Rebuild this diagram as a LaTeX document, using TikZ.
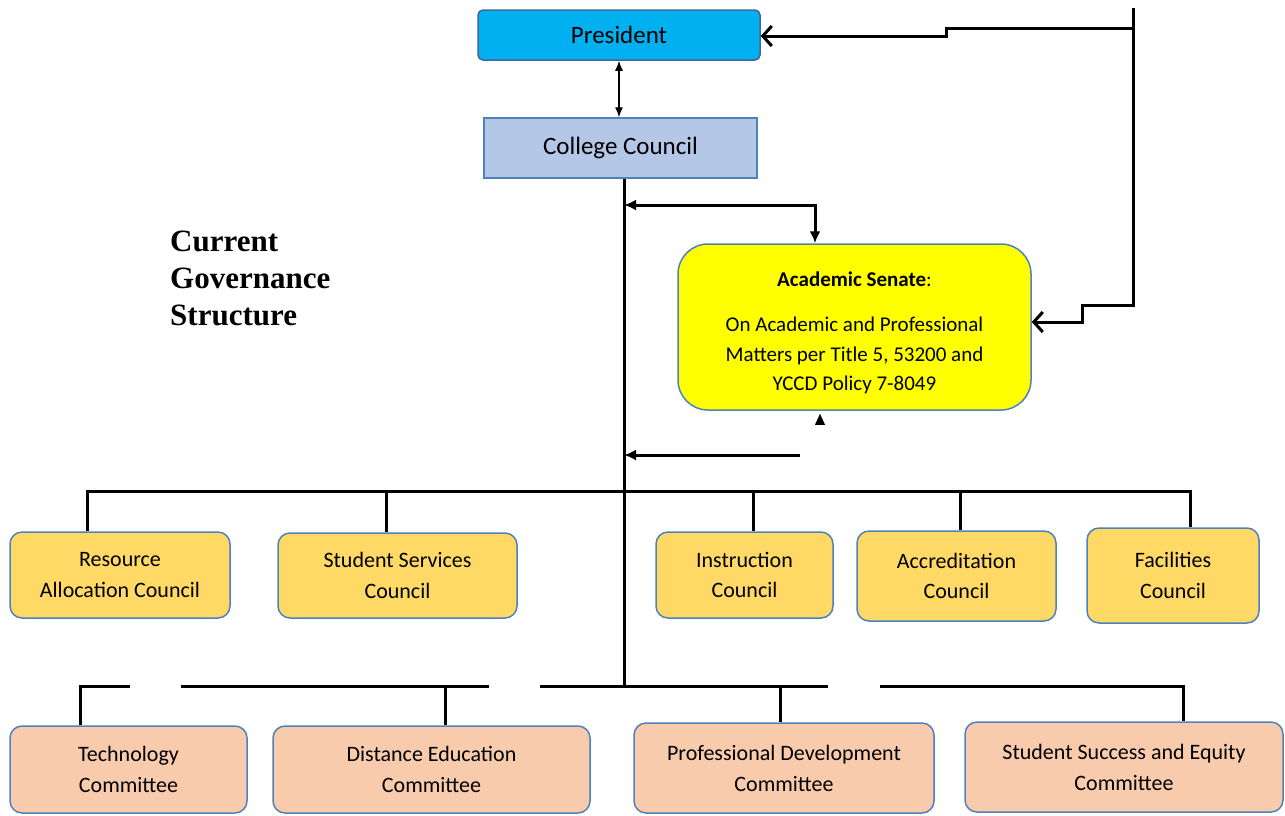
\documentclass[tikz,border=0pt]{standalone}
\usepackage{fontspec}
\setmainfont{Carlito}
\newfontfamily\titlefont{Liberation Serif}
\usetikzlibrary{arrows.meta}
\definecolor{presblue}{HTML}{00B0F0}
\definecolor{councilblue}{HTML}{B4C7E7}
\definecolor{senateyellow}{HTML}{FFFF00}
\definecolor{councilgold}{HTML}{FFD966}
\definecolor{committeepeach}{HTML}{F8CBAD}
\definecolor{edgeblue}{HTML}{4F81BD}
\tikzset{
  box/.style={draw=edgeblue, line width=1.5pt, align=center, inner sep=0pt},
  council/.style={box, fill=councilgold, rounded corners=12pt,
    font=\fontsize{22}{30.5}\selectfont},
  committee/.style={box, fill=committeepeach, rounded corners=12pt,
    font=\fontsize{22}{31}\selectfont},
  bus/.style={line width=3pt},
  fill arrow/.style={bus, -{Latex[length=12pt,width=11pt]}},
  open arrow/.style={bus, -{Straight Barb[length=9pt,width=20pt]}},
}
\begin{document}
\begin{tikzpicture}[x=1pt,y=-1pt]
        \useasboundingbox (0,0) rectangle (1285,815);

        % top of the chart
        \node[box, fill=presblue, draw=edgeblue!80!black, rounded corners=5pt,
            minimum width=282pt, minimum height=50pt,
            font=\fontsize{25}{30}\selectfont] (president) at (619,35) {President};
        \node[box, fill=councilblue, minimum width=273pt, minimum height=60pt,
            font=\fontsize{25}{30}\selectfont] (college) at (620.5,148) {College Council};
        \draw[line width=1.2pt, {Latex[length=10pt,width=8pt]}-{Latex[length=10pt,width=8pt]}]
            (president.south) -- (president.south |- college.north);

        \node[box, fill=senateyellow, rounded corners=30pt,
            minimum width=353pt, minimum height=166pt,
            font=\fontsize{21}{29.5}\selectfont] (senate) at (854.5,327)
            {\rule{0pt}{26pt}\textbf{Academic Senate}:\\[16pt]
             On Academic and Professional\\
             Matters per Title 5, 53200 and\\
             YCCD Policy 7-8049};

        \node[anchor=west, align=left, inner sep=0pt,
            font=\titlefont\bfseries\fontsize{31}{37}\selectfont] (title) at (170,278)
            {Current\\Governance\\Structure};

        % councils
        \node[council, minimum width=220pt, minimum height=86pt] (resource) at (120,575)
            {Resource\\Allocation Council};
        \node[council, minimum width=239pt, minimum height=85pt] (studserv) at (397.5,575.5)
            {Student Services\\Council};
        \node[council, minimum width=177pt, minimum height=86pt] (instruction) at (744.5,575)
            {Instruction\\Council};
        \node[council, minimum width=199pt, minimum height=90pt] (accred) at (956.5,576)
            {Accreditation\\Council};
        \node[council, minimum width=172pt, minimum height=95pt] (facilities) at (1173,575.5)
            {Facilities\\Council};

        % committees
        \node[committee, minimum width=237pt, minimum height=87pt] (tech) at (128.5,769.5)
            {Technology\\Committee};
        \node[committee, minimum width=317pt, minimum height=87pt] (distance) at (431.5,769.5)
            {Distance Education\\Committee};
        \node[committee, minimum width=300pt, minimum height=90pt] (profdev) at (784,768)
            {Professional Development\\Committee};
        \node[committee, minimum width=318pt, minimum height=90pt] (success) at (1124,767)
            {Student Success and Equity\\Committee};

        % trunk and senate links
        \coordinate (trunkend) at (624,686);
        \coordinate (senjoin) at (624,205);
        \coordinate (senback) at (800,455);
        \draw[bus] (college.south -| trunkend) -- (trunkend);
        \draw[bus, {Latex[length=12pt,width=11pt]}-{Latex[length=12pt,width=11pt]}]
            (senjoin) -| ([xshift=-39.5pt]senate.north);
        \draw[fill arrow] (senback) -- (senback -| trunkend);
        \fill ([xshift=-34.5pt,yshift=-3pt]senate.south) -- ++(-5,11) -- ++(10,0) -- cycle;

        % feedback line on the right
        \coordinate (fbtop) at (1133,8);
        \draw[open arrow] (fbtop) -- (1133,305) -- (1082,305) -- (1082,322)
            -- ([yshift=5pt]senate.east);
        \draw[open arrow] (1133,28) -- (946,28) -- (946,36) -- ([yshift=-1pt]president.east);

        % council bus
        \coordinate (rdrop) at (87,491);
        \coordinate (fdrop) at (1190,491);
        \draw[bus] (rdrop |- resource.north) |- (fdrop) -- (fdrop |- facilities.north);
        \foreach \nm/\xx in {studserv/386, instruction/753, accred/960}
            \draw[bus] (\xx,491) -- (\nm.north -| \xx,491);

        % committee bus, with its gaps
        \coordinate (tdrop) at (80,686);
        \coordinate (sdrop) at (1183,686);
        \draw[bus] (tdrop |- tech.north) |- (130,686);
        \draw[bus] (181,686) -- (489,686);
        \draw[bus] (540,686) -- (828,686);
        \draw[bus] (880,686) -| (sdrop |- success.north);
        \foreach \nm/\xx in {distance/445, profdev/780}
            \draw[bus] (\xx,686) -- (\nm.north -| \xx,686);
\end{tikzpicture}
\end{document}
